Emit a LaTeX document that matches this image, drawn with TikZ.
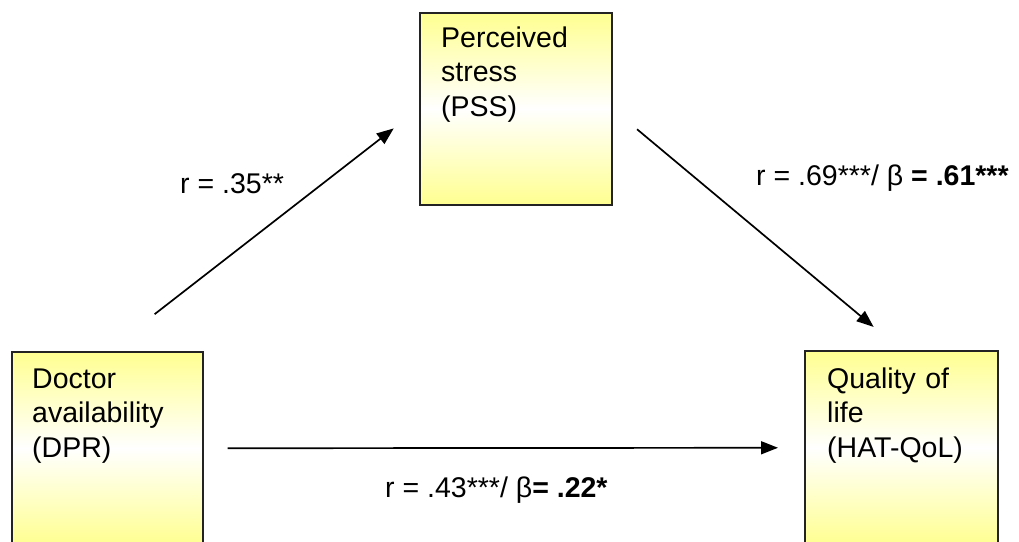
\documentclass[tikz,border=0pt]{standalone}
\usepackage{fontspec}
\setmainfont{Liberation Sans}
\usepackage{tikz}
\usetikzlibrary{arrows.meta,positioning}
\definecolor{medge}{RGB}{35,35,35}
\definecolor{myel}{RGB}{255,255,145}
\tikzset{
  varbox/.style={
    draw=medge, line width=1.5pt, anchor=north west,
    top color=myel, bottom color=myel, middle color=white
  },
  vartxt/.style={
    anchor=base west, align=left, text width=170pt, inner sep=0pt,
    font=\fontsize{28.5}{34.5}\selectfont
  },
  coef/.style={anchor=base west, inner sep=0pt, font=\fontsize{28.5}{34.5}\selectfont},
  arr/.style={-{Triangle[length=17pt,width=13pt]}, draw=black, line width=1.7pt}
}

\begin{document}
\begin{tikzpicture}[x=1pt,y=-1pt]
  \useasboundingbox (0,0) rectangle (1019,541);
  \clip (0,0) rectangle (1019,541);

  % variables
  \node[varbox, minimum width=192pt, minimum height=192pt] (pss) at (419,12) {};
  \node[varbox, minimum width=191pt, minimum height=193pt] (dpr) at (11,351) {};
  \node[varbox, minimum width=193pt, minimum height=194pt] (qol) at (804,350) {};

  \node[vartxt] (psstxt) at (441,47) {Perceived\\stress\\(PSS)};
  \node[vartxt] (dprtxt) at (32,388) {Doctor\\availability\\(DPR)};
  \node[vartxt] (qoltxt) at (827,388) {Quality of\\life\\(HAT-QoL)};

  % paths
  \draw[arr, shorten <=60pt, shorten >=32pt] (dpr.north) -- (pss.west);
  \draw[arr, shorten <=32pt, shorten >=36pt] (pss.east) -- (qol.north);
  \draw[arr, shorten <=24pt, shorten >=26pt] (dpr.east) -- (qol.west);

  \node[coef] (c35) at (180,193) {r = .35**};
  \node[coef] (c69) at (756,185) {r = .69***/ β\textbf{ = .61***}};
  \node[coef] (c43) at (385,497) {r = .43***/ β\textbf{= .22*}};
\end{tikzpicture}
\end{document}
